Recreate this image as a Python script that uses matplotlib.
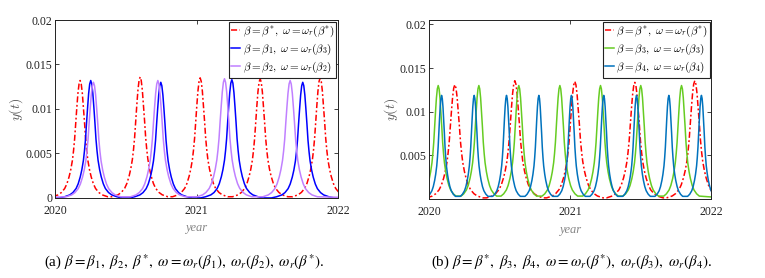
import numpy as np
import matplotlib
matplotlib.use("Agg")
import matplotlib.pyplot as plt

plt.rcParams['font.family'] = ['Liberation Serif', 'DejaVu Serif']
plt.rcParams['mathtext.fontset'] = 'cm'

# peak shape: offset in units of FWHM -> fraction of peak height
prof_d = [0, 0.1, 0.2, 0.3, 0.4, 0.5, 0.6, 0.7, 0.85, 1.0, 1.2, 1.4, 1.7, 2.0, 2.5, 3.0]
prof_v = [1, 0.97, 0.89, 0.77, 0.64, 0.5, 0.4, 0.32, 0.24, 0.18, 0.12, 0.08, 0.046, 0.026, 0.01, 0.0]

# panel (a): peak years, peak heights, peak width (FWHM, years)
red_a_t = [2020.177, 2020.601, 2021.025, 2021.449, 2021.873]
red_a_h = [0.0132, 0.0136, 0.0135, 0.0134, 0.0135]
red_a_w = 0.078
blue_a_t = [2020.252, 2020.747, 2021.249, 2021.750]
blue_a_h = [0.0132, 0.0130, 0.0133, 0.0130]
blue_a_w = 0.074
purple_a_t = [2020.271, 2020.726, 2021.197, 2021.661]
purple_a_h = [0.0130, 0.0132, 0.0134, 0.0132]
purple_a_w = 0.077

# panel (b)
red_b_t = [2020.182, 2020.607, 2021.032, 2021.457, 2021.882]
red_b_h = [0.0131, 0.01355, 0.01347, 0.01336, 0.01355]
red_b_w = 0.080
green_b_t = [2020.064, 2020.352, 2020.635, 2020.926, 2021.214, 2021.499, 2021.788]
green_b_h = [0.0130, 0.0130, 0.0130, 0.0130, 0.0130, 0.0130, 0.0130]
green_b_w = 0.063
blue_b_t = [2020.088, 2020.319, 2020.548, 2020.777, 2021.008, 2021.237, 2021.469, 2021.698, 2021.929]
blue_b_h = [0.01187, 0.01187, 0.01187, 0.01187, 0.01187, 0.01187, 0.01187, 0.01187, 0.01187]
blue_b_w = 0.049

x_ticks = [2020, 2021, 2022]
y_ticks_a = [0, 0.005, 0.01, 0.015, 0.02]
y_ticks_b = [0.005, 0.01, 0.015, 0.02]


def peak_series(times, heights, width):
    """Chain the read-off peak profile at every peak time."""
    d = np.array(prof_d)
    v = np.array(prof_v)
    cut = np.diff(times).min() / 2 * 0.95 if len(times) > 1 else 1.0
    keep = d * width <= cut
    d, v = d[keep], v[keep]
    dd = np.concatenate([-d[::-1], d[1:]])
    vv = np.concatenate([v[::-1], v[1:]])
    xs, ys = [2019.8], [0.0]
    for t, h in zip(times, heights):
        xs.extend(t + dd * width)
        ys.extend(h * vv)
    xs.append(2022.2)
    ys.append(0.0)
    return np.array(xs), np.array(ys)


def style_axes(ax, yticks, ylim_top):
    ax.set_xlim(2020, 2022)
    ax.set_ylim(0, ylim_top)
    ax.set_xticks(x_ticks)
    ax.set_xticklabels([str(v) for v in x_ticks])
    ax.set_yticks(yticks)
    ax.set_yticklabels([f'{v:g}' for v in yticks])
    ax.tick_params(direction='in', top=True, right=True, length=3, width=0.6,
                   labelsize=8.5, colors='#222222', pad=2)
    ax.tick_params(axis='x', pad=5)
    for s in ax.spines.values():
        s.set_linewidth(0.7)
        s.set_color('#222222')
    ax.set_xlabel('year', fontsize=9, style='italic', color='#888888', labelpad=4)
    ax.set_ylabel(r'$y(t)$', fontsize=10, color='#555555', labelpad=0)


fig = plt.figure(figsize=(7.65, 2.78), dpi=100)
ax1 = fig.add_axes([0.072, 0.288, 0.370, 0.640])
ax2 = fig.add_axes([0.561, 0.284, 0.369, 0.644])

lw = 1.1
dashdot = (0, (4, 1.6, 1.2, 1.6))
x, y = peak_series(red_a_t, red_a_h, red_a_w)
ax1.plot(x, y, color='#FF0000', ls=dashdot, lw=lw, label=r'$\beta=\beta^{*},\ \omega=\omega_r(\beta^{*})$')
x, y = peak_series(blue_a_t, blue_a_h, blue_a_w)
ax1.plot(x, y, color='#0000FF', ls='-', lw=lw, label=r'$\beta=\beta_1,\ \omega=\omega_r(\beta_3)$')
x, y = peak_series(purple_a_t, purple_a_h, purple_a_w)
ax1.plot(x, y, color='#C080FF', ls='-', lw=lw, label=r'$\beta=\beta_2,\ \omega=\omega_r(\beta_2)$')
style_axes(ax1, y_ticks_a, 0.02)

x, y = peak_series(red_b_t, red_b_h, red_b_w)
ax2.plot(x, y, color='#FF0000', ls=dashdot, lw=lw, label=r'$\beta=\beta^{*},\ \omega=\omega_r(\beta^{*})$')
x, y = peak_series(green_b_t, green_b_h, green_b_w)
ax2.plot(x, y, color='#66CC22', ls='-', lw=lw, label=r'$\beta=\beta_3,\ \omega=\omega_r(\beta_3)$')
x, y = peak_series(blue_b_t, blue_b_h, blue_b_w)
ax2.plot(x, y, color='#0072BD', ls='-', lw=lw, label=r'$\beta=\beta_4,\ \omega=\omega_r(\beta_4)$')
style_axes(ax2, y_ticks_b, 0.0205)

for ax in (ax1, ax2):
    leg = ax.legend(loc='upper right', fontsize=8, handlelength=0.8, handletextpad=0.2,
                    borderaxespad=0.15, borderpad=0.2, labelspacing=0.25,
                    fancybox=False, framealpha=1, edgecolor='#222222')
    leg.get_frame().set_linewidth(0.8)

cap_a = r'(a) $\beta=\beta_1,\ \beta_2,\ \beta^{*},\ \omega=\omega_r(\beta_1),\ \omega_r(\beta_2),\ \omega_r(\beta^{*})$.'
cap_b = r'(b) $\beta=\beta^{*},\ \beta_3,\ \beta_4,\ \omega=\omega_r(\beta^{*}),\ \omega_r(\beta_3),\ \omega_r(\beta_4)$.'
fig.text(0.241, 0.058, cap_a, ha='center', va='center', fontsize=10.8, math_fontfamily='stix')
fig.text(0.747, 0.058, cap_b, ha='center', va='center', fontsize=10.8, math_fontfamily='stix')

fig.savefig('out.png', dpi=100)
